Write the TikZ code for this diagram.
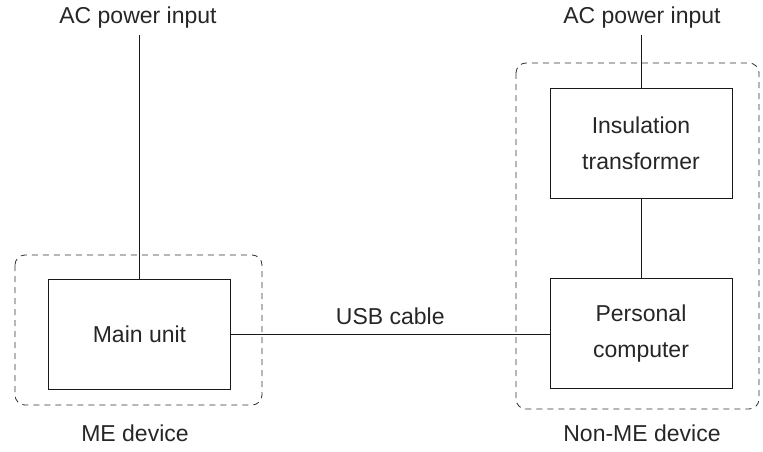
\documentclass[tikz,border=0pt]{standalone}
\usepackage{fontspec}
\setmainfont{Liberation Sans}
\begin{document}
\begin{tikzpicture}[x=1pt,y=-1pt,
  lbl/.style={font=\fontsize{23}{36}\selectfont, text=black!85, inner sep=0pt, align=center},
  unitbox/.style={draw=black!90, line width=0.8pt, minimum width=182pt, minimum height=110pt, inner sep=0pt, font=\fontsize{23}{36}\selectfont, text=black!85, align=center},
  groupbox/.style={draw=black!80, line width=0.8pt, dash pattern=on 6pt off 5pt, rounded corners=10pt},
  wire/.style={draw=black!90, line width=0.8pt}]
\useasboundingbox (0,0) rectangle (763,452);
% groups
\draw[groupbox] (15,255) rectangle (262,405);
\draw[groupbox] (516,63) rectangle (759,409);
% units
\node[unitbox] (main) at (139.5,334) {Main unit};
\node[unitbox] (ins) at (641,143.5) {Insulation\\transformer};
\node[unitbox] (pc) at (641,333.5) {Personal\\computer};
% labels
\node[lbl] (acl) at (138,18) {AC power input};
\node[lbl] (acr) at (642,18) {AC power input};
\node[lbl] (me) at (135,433) {ME device};
\node[lbl] (nme) at (642,433) {Non-ME device};
\coordinate (acl0) at (139.5,35);
\coordinate (acr0) at (641,35);
% wires
\draw[wire] (acl0) -- (main.north);
\draw[wire] (acr0) -- (ins.north);
\draw[wire] (ins.south) -- (pc.north);
\draw[wire] (main.east) -- node[lbl, above=9pt] (usb) {USB cable} (pc.west |- main.east);
\end{tikzpicture}
\end{document}
